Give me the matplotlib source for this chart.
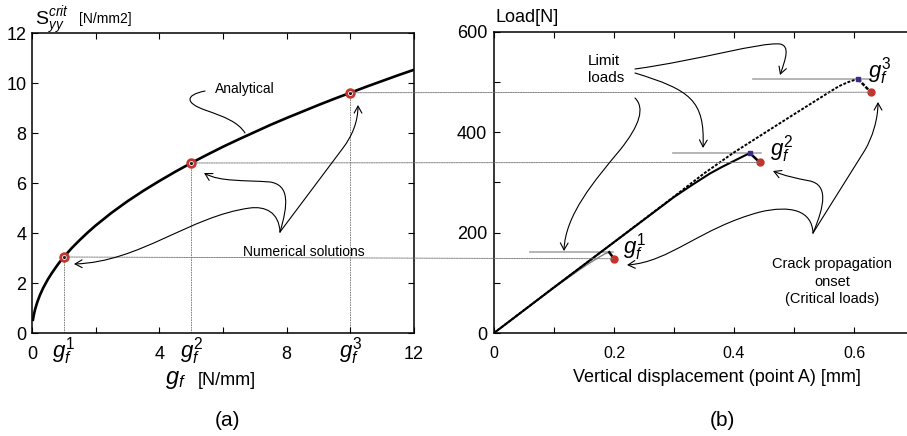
import matplotlib.pyplot as plt
from matplotlib.path import Path
from matplotlib.patches import FancyArrowPatch, ConnectionPatch
from matplotlib.transforms import blended_transform_factory

plt.rcParams['font.family'] = ['Liberation Sans', 'DejaVu Sans']
plt.rcParams['mathtext.fontset'] = 'custom'
plt.rcParams['mathtext.rm'] = 'Liberation Sans'
plt.rcParams['mathtext.it'] = 'Liberation Sans:italic'

W, H = 907, 436

# (a) critical stress vs fracture energy
gf_curve = [0.03, 0.06, 0.1, 0.17, 0.25, 0.35, 0.5, 0.62, 0.75, 0.87, 1, 1.25, 1.5,
            1.75, 2, 2.5, 3, 3.5, 4, 4.5, 5, 5.5, 6, 6.5, 7, 7.5, 8, 8.5, 9, 9.5,
            10, 10.5, 11, 11.5, 12]
s_curve = [0.53, 0.74, 0.96, 1.25, 1.52, 1.80, 2.15, 2.39, 2.63, 2.84, 3.04, 3.40,
           3.72, 4.02, 4.30, 4.81, 5.27, 5.69, 6.08, 6.45, 6.80, 7.13, 7.45, 7.75,
           8.04, 8.33, 8.60, 8.86, 9.12, 9.37, 9.61, 9.85, 10.08, 10.31, 10.53]
gf_num = [1, 5, 10]
s_num = [3.04, 6.80, 9.61]
g_labels = ['$g_f^1$', '$g_f^2$', '$g_f^3$']

# (b) load-displacement curves
d1 = [0, 0.1, 0.14, 0.16, 0.175, 0.185, 0.192]
p1 = [0, 90, 124, 140, 151, 158, 161]
d2 = [0, 0.1, 0.2, 0.3, 0.33, 0.36, 0.38, 0.395, 0.405, 0.415, 0.422, 0.427]
p2 = [0, 91, 181, 271, 295, 318, 331, 340, 346, 352, 356, 358]
d3 = [0, 0.1, 0.2, 0.3, 0.35, 0.4, 0.45, 0.5, 0.54, 0.56, 0.575, 0.59, 0.6, 0.607]
p3 = [0, 91, 181, 272, 318, 360, 398, 436, 466, 481, 492, 500, 504, 506]
peak_d = [0.192, 0.427, 0.607]
peak_p = [161, 358, 506]
crit_d = [0.2, 0.443, 0.628]
crit_p = [148, 340, 480]
limit_x0 = [0.06, 0.298, 0.431]
limit_x1 = [0.199, 0.445, 0.628]
glab_d = [0.215, 0.46, 0.623]
glab_p = [171, 367, 522]

RED = '#c8322a'
BLUE = '#3b2d87'


def px(x, y):
    return (x / W, 1 - y / H)


fig = plt.figure(figsize=(W / 100, H / 100), dpi=100)
ax1 = fig.add_axes([32 / W, 103 / H, 382 / W, 300 / H])
ax2 = fig.add_axes([494 / W, 103 / H, 414 / W, 301 / H])

# ---- (a)
ax1.plot(gf_curve, s_curve, color='black', lw=1.9, zorder=3)
for g, s in zip(gf_num, s_num):
    ax1.plot([g, g], [0, s], color='#707070', lw=0.6, ls=(0, (2, 1)), zorder=1)
ax1.plot(gf_num, s_num, 'o', ms=5.5, mfc='white', mec=RED, mew=2, zorder=4)
ax1.plot(gf_num, s_num, 'o', ms=1.2, color='black', zorder=5)
ax1.set_xlim(0, 12)
ax1.set_ylim(0, 12)
ax1.set_xticks([0, 4, 8, 12])
ax1.set_xticklabels(['0', '4', '8', '12'])
ax1.set_xticks([2, 6, 10], minor=True)
ax1.set_yticks(range(0, 13, 2))
ax1.tick_params(which='both', direction='in', top=True, right=True,
                length=4, width=0.8, labelsize=13)
ax1.tick_params(axis='x', pad=9)
ax1.tick_params(axis='y', pad=4)
trans1 = blended_transform_factory(ax1.transData, ax1.transAxes)
for g, lab in zip(gf_num, g_labels):
    ax1.text(g, -0.06, lab, transform=trans1, ha='center', va='center', fontsize=16)
for sp in ax1.spines.values():
    sp.set_linewidth(1.1)

# ---- (b)
ax2.plot(d1, p1, color='#808080', lw=1.0, zorder=3)
ax2.plot(d2, p2, color='black', lw=1.5, zorder=3)
ax2.plot(d3, p3, color='black', lw=1.4, ls=(0, (1.5, 0.8)), zorder=3)
for i in range(3):
    ax2.plot([limit_x0[i], limit_x1[i]], [peak_p[i], peak_p[i]], color='#a8a8a8', lw=1.2, zorder=2)
    ax2.plot([peak_d[i], crit_d[i]], [peak_p[i], crit_p[i]], color='black', lw=1.8,
             ls='-' if i < 2 else (0, (1.5, 0.6)), zorder=3)
    ax2.text(glab_d[i], glab_p[i], g_labels[i], ha='left', va='center', fontsize=16)
ax2.plot(peak_d[1:], peak_p[1:], 's', ms=3.5, color=BLUE, zorder=4)
ax2.plot(crit_d, crit_p, 'o', ms=5, color=RED, zorder=5)
ax2.set_xlim(0, 0.69)
ax2.set_ylim(0, 600)
ax2.set_xticks([0, 0.2, 0.4, 0.6])
ax2.set_xticklabels(['0', '0.2', '0.4', '0.6'])
ax2.set_xticks([0.1, 0.3, 0.5], minor=True)
ax2.set_yticks([0, 200, 400, 600])
ax2.set_yticks([100, 300, 500], minor=True)
ax2.tick_params(which='both', direction='in', top=True, right=False,
                length=4, width=0.8)
ax2.tick_params(axis='x', labelsize=11.5, pad=9)
ax2.tick_params(axis='y', labelsize=13, pad=5)
ax2.spines['right'].set_visible(False)
for sp in ax2.spines.values():
    sp.set_linewidth(1.1)

# horizontal links between the two panels
for i in range(3):
    con = ConnectionPatch(xyA=(gf_num[i], s_num[i]), coordsA=ax1.transData,
                          xyB=(crit_d[i], crit_p[i]), coordsB=ax2.transData,
                          color='#707070', lw=0.6, ls=(0, (2, 1)), zorder=1)
    fig.add_artist(con)

# axis titles
fig.text(*px(35, 25), r'$\mathrm{S}_{yy}^{crit}$', fontsize=14, va='baseline')
fig.text(*px(79, 23), '[N/mm2]', fontsize=10, va='baseline')
fig.text(*px(495, 17), 'Load[N]', fontsize=13, va='center')
fig.text(*px(165, 380), '$g_f$', fontsize=17, va='center')
fig.text(*px(198, 380), '[N/mm]', fontsize=13, va='center')
fig.text(*px(717, 377), 'Vertical displacement (point A) [mm]', fontsize=13,
         ha='center', va='center')
fig.text(*px(227, 420), '(a)', fontsize=15, ha='center', va='center')
fig.text(*px(722, 420), '(b)', fontsize=15, ha='center', va='center')

# annotation texts
fig.text(*px(215, 89), 'Analytical', fontsize=10, va='center')
fig.text(*px(304, 252), 'Numerical solutions', fontsize=10, ha='center', va='center')
fig.text(*px(588, 61), 'Limit', fontsize=11, va='center')
fig.text(*px(588, 78), 'loads', fontsize=11, va='center')
fig.text(*px(832, 264), 'Crack propagation', fontsize=10.5, ha='center', va='center')
fig.text(*px(832, 282), 'onset', fontsize=10.5, ha='center', va='center')
fig.text(*px(832, 299), '(Critical loads)', fontsize=10.5, ha='center', va='center')

M, C, L = Path.MOVETO, Path.CURVE4, Path.LINETO


def curvy(points, codes, head=True):
    path = Path([px(*p) for p in points], codes)
    style = '->,head_length=5,head_width=2.8' if head else '-'
    fig.add_artist(FancyArrowPatch(path=path, arrowstyle=style, lw=0.8,
                                   color='black', transform=fig.transFigure))


# leader for "Analytical"
curvy([(205, 91), (185, 95), (185, 103), (205, 110), (225, 117), (238, 122), (245, 133)],
      [M, C, C, C, C, C, C], head=False)
# "Numerical solutions" arrows
curvy([(280, 232), (279, 212), (265, 206), (250, 208), (190, 216), (140, 262), (74, 264)],
      [M, C, C, C, C, C, C])
curvy([(280, 232), (288, 205), (290, 185), (270, 182), (245, 180), (220, 182), (204, 173)],
      [M, C, C, C, C, C, C])
curvy([(280, 232), (343, 148), (352, 136), (358, 122), (358, 105)],
      [M, L, C, C, C])
# "Limit loads" arrows
curvy([(635, 69), (700, 60), (760, 42), (780, 44), (790, 46), (786, 58), (780, 75)],
      [M, C, C, C, C, C, C])
curvy([(635, 73), (690, 90), (705, 100), (703, 148)],
      [M, C, C, C])
curvy([(635, 98), (645, 108), (640, 125), (620, 150), (595, 180), (565, 215), (564, 251)],
      [M, C, C, C, C, C, C])
# "Crack propagation onset" arrows
curvy([(813, 233), (812, 210), (790, 205), (760, 212), (700, 228), (670, 262), (627, 265)],
      [M, C, C, C, C, C, C])
curvy([(813, 233), (825, 205), (828, 185), (810, 181), (795, 178), (785, 176), (773, 171)],
      [M, C, C, C, C, C, C])
curvy([(813, 233), (865, 150), (872, 138), (878, 120), (878, 102)],
      [M, L, C, C, C])

fig.savefig('out.png', dpi=100)
